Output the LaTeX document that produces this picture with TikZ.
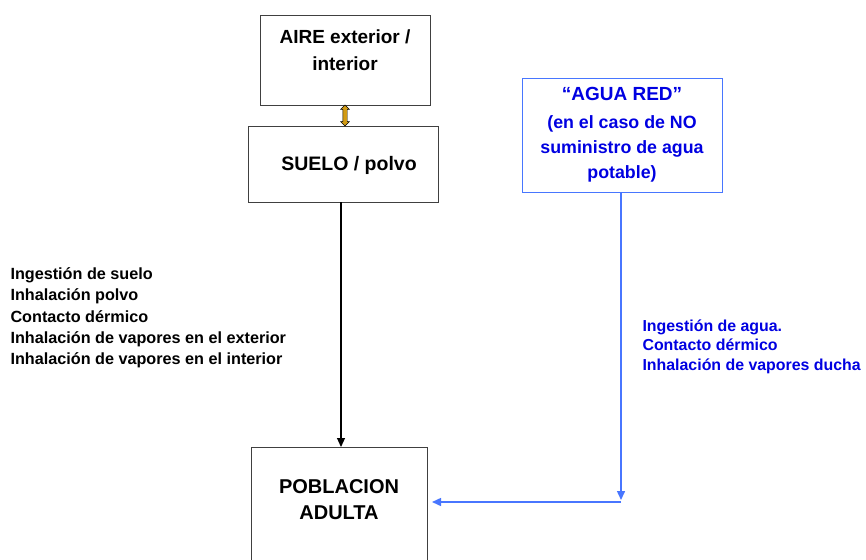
\documentclass[tikz,border=0pt]{standalone}
\usepackage{fontspec}
\setmainfont{Liberation Sans}
\usetikzlibrary{arrows.meta,shapes.arrows,calc}
\definecolor{linkblue}{RGB}{72,118,255}
\definecolor{textblue}{RGB}{0,0,225}
\definecolor{gold}{RGB}{210,155,20}
\begin{document}
\begin{tikzpicture}[x=1pt,y=-1pt,
    box/.style={draw=black!75, thin, rectangle},
    boxtext/.style={font=\bfseries\fontsize{19}{27}\selectfont, align=center},
    path/.style={font=\bfseries\fontsize{16.2}{21.3}\selectfont, align=left},
    waterbox/.style={draw=linkblue, thin, rectangle, text=textblue, align=center,
      font=\bfseries\fontsize{17.8}{25}\selectfont},
    swap/.style={double arrow, draw=black, fill=gold, rotate=90, inner xsep=0pt, inner ysep=2pt,
      minimum height=21pt, double arrow head extend=2.2pt},
    flow/.style={-{Triangle[length=9pt,width=8pt]}, line width=1.2pt},
    waterflow/.style={-{Triangle[length=9pt,width=8pt]}, draw=linkblue, line width=1.5pt}]
    \useasboundingbox (0,0) rectangle (866,559);
    % sources
    \node (aire) [box, minimum width=170, minimum height=90] at (345,60) {};
    \node (airetext) [boxtext] at (345,50) {AIRE exterior /\\interior};
    \node (suelo) [box, minimum width=190, minimum height=76] at (343,164) {};
    \node (suelotext) [boxtext, font=\bfseries\fontsize{19.5}{24}\selectfont] at (349,165)
      {SUELO / polvo};
    \node (agua) [waterbox, minimum width=200, minimum height=114] at (622,135)
      {{\fontsize{19}{24}\selectfont “AGUA RED”}\\[3pt](en el caso de NO\\suministro de agua\\potable)};
    % receptor
    \node (pob) [box, anchor=north, minimum width=176, minimum height=140] at (339,447) {};
    \node (pobtext) [boxtext, font=\bfseries\fontsize{20}{26}\selectfont] at (339,500)
      {POBLACION\\ADULTA};
    % routes
    \node (suelopath) [path, anchor=north west] at (7,264)
      {Ingestión de suelo\\Inhalación polvo\\Contacto dérmico\\
       Inhalación de vapores en el exterior\\Inhalación de vapores en el interior};
    \node (aguapath) [path, anchor=north west, text=textblue,
      font=\bfseries\fontsize{15.9}{19.6}\selectfont] at (639,316)
      {Ingestión de agua.\\Contacto dérmico\\Inhalación de vapores ducha};
    \coordinate (corner) at (621,500);
    \coordinate (tip) at (432,502);
    \node (airesuelo) [swap] at ($(aire.south)!0.5!(aire.south |- suelo.north)$) {};
    \draw[flow] (suelo.south -| 341,0) -- (pob.north -| 341,0);
    \draw[waterflow] (agua.south -| corner) -- (corner);
    \draw[waterflow] (corner |- tip) -- (tip);
\end{tikzpicture}
\end{document}
